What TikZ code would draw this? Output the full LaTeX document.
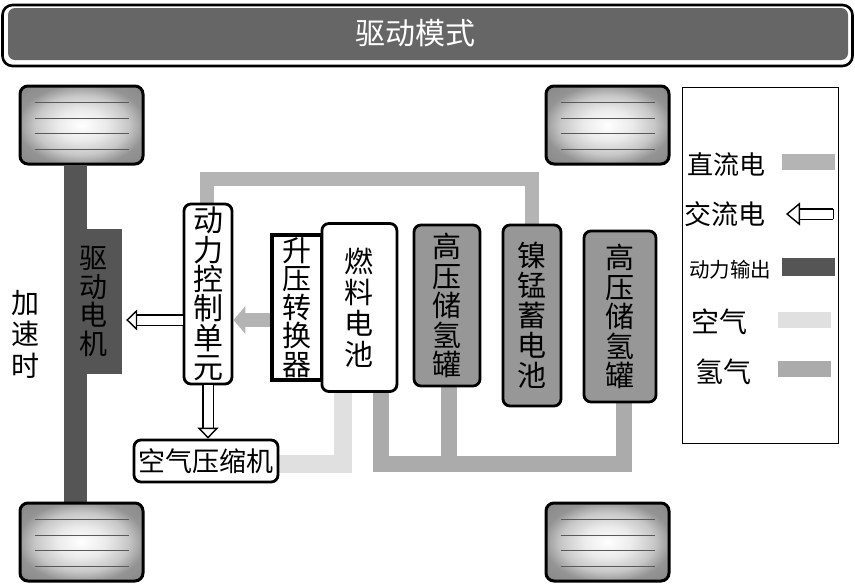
\documentclass[tikz,border=0pt]{standalone}
\usepackage{fontspec}
\setmainfont{Noto Sans CJK SC}
\usepackage{xcolor}
\usetikzlibrary{arrows.meta, shapes.geometric, positioning, backgrounds}

\definecolor{dcgray}{HTML}{B4B4B4}
\definecolor{drivegray}{HTML}{555555}
\definecolor{airgray}{HTML}{E0E0E0}
\definecolor{hydrogray}{HTML}{ABABAB}
\definecolor{tankgray}{HTML}{979797}
\definecolor{titlegray}{HTML}{666666}

\pgfdeclareradialshading{wheelshade}{\pgfpoint{0bp}{0bp}}{
color(0bp)=(white);
color(10bp)=(white!92!black);
color(19bp)=(black!22);
color(26bp)=(black!42);
color(50bp)=(black!55)}

\newcommand{\wheellines}[1]{%
\foreach \dy in {-23,-7,8,24} {
\draw[wheelline] ([xshift=-47pt,yshift=-\dy pt]#1.center) -- ([xshift=47pt,yshift=-\dy pt]#1.center);
}}

\begin{document}
\begin{tikzpicture}[
x=1pt, y=-1pt,
>=Stealth,
wheel/.style={rectangle, draw, line width=3pt, rounded corners=8pt, minimum width=123pt, minimum height=78pt, shading=wheelshade},
wheelline/.style={draw=black!65, line width=1pt},
unit/.style={rectangle, draw, line width=2.8pt, rounded corners=7pt, fill=white, align=center, inner sep=0pt},
tank/.style={unit, fill=tankgray},
vfont/.style 2 args={font=\fontsize{#1}{#2}\selectfont},
legendtext/.style={inner sep=0pt, anchor=west},
swatch/.style={rectangle, minimum width=53pt, minimum height=16pt, inner sep=0pt},
dcline/.style={draw=dcgray, line width=14pt},
airline/.style={draw=airgray, line width=18pt},
hydroline/.style={draw=hydrogray, line width=16pt},
acline/.style={draw, line width=1.4pt, double=white, double distance=9pt, -{Triangle[open, fill=white, length=11pt, width=21pt]}}
]
\useasboundingbox (0,0) rectangle (855,584);

% title
\node[rectangle, draw, line width=2.6pt, rounded corners=10pt, minimum width=850pt, minimum height=61pt] (frame) at (427.5,35.5) {};
\node[rectangle, fill=titlegray, rounded corners=7pt, minimum width=840pt, minimum height=52pt] (title) at (428,34) {};
\node[text=white, vfont={30}{32}, inner sep=0pt] (titletext) at (415.5,33) {驱动模式};

% wheels
\node[wheel] (wheelfl) at (81.5,125) {};
\node[wheel] (wheelfr) at (607.5,125) {};
\node[wheel] (wheelrl) at (81.5,542) {};
\node[wheel] (wheelrr) at (607.5,542) {};
\wheellines{wheelfl}
\wheellines{wheelfr}
\wheellines{wheelrl}
\wheellines{wheelrr}

% drive train
\node[rectangle, fill=drivegray, minimum width=58pt, minimum height=145pt, align=center, inner sep=0pt, vfont={28}{28.5}] (motor) at (93,301.5) {驱\\动\\电\\机};
\node[align=center, inner sep=0pt, vfont={28}{31.5}] (accel) at (26,334) {加\\速\\时};

% units
\node[unit, minimum width=48pt, minimum height=180pt, vfont={30}{29.3}] (pcu) at (208,294) {动\\力\\控\\制\\单\\元};
\node[rectangle, draw, line width=3.4pt, fill=white, minimum width=50pt, minimum height=145pt, align=center, inner sep=0pt, vfont={29}{28.5}] (boost) at (297,307.5) {升\\压\\转\\换\\器};
\node[unit, minimum width=75pt, minimum height=168pt, vfont={29}{31}, right=-3.2pt of boost] (fuel) {燃\\料\\电\\池};
\node[tank, minimum width=66pt, minimum height=161pt, vfont={29}{29.5}] (tankleft) at (447,305.5) {高\\压\\储\\氢\\罐};
\node[tank, minimum width=58pt, minimum height=181pt, vfont={29}{30}] (battery) at (532,315.5) {镍\\锰\\蓄\\电\\池};
\node[tank, minimum width=72pt, minimum height=171pt, vfont={29}{29.5}] (tankright) at (620,316.5) {高\\压\\储\\氢\\罐};
\node[unit, minimum width=144pt, minimum height=42pt, vfont={27}{29}] (compressor) at (206,461) {空气压缩机};

% connector corners
\coordinate (dcleft) at (207,179);
\coordinate (airbend) at (343,464);
\coordinate (hydrobend) at (381,464);
\coordinate (hydrotankleft) at (449,464);
\coordinate (hydrotankright) at (624,464);

\begin{scope}[on background layer]
\draw[draw=drivegray, line width=23pt] (wheelfl.south -| 75.5,0) -- (wheelrl.north -| 75.5,0);
\draw[dcline] (dcleft |- pcu.north) -- (dcleft) -| (battery.north);
\draw[airline] (airbend -| compressor.east) -- (airbend) -- (airbend |- fuel.south);
\draw[hydroline] (hydrobend |- fuel.south) -- (hydrobend) -- (hydrotankright) -- (hydrotankright |- tankright.south);
\draw[hydroline] (hydrotankleft) -- (hydrotankleft |- tankleft.south);
\end{scope}

\draw[dcgray, line width=14pt, -{Triangle[length=12pt, width=27pt]}] (boost.west |- 0,320) -- (pcu.east |- 0,320);
\draw[acline, shorten >=4pt] (pcu.west |- 0,320) -- (motor.east |- 0,320);
\draw[acline] (pcu.south) -- (pcu.south |- compressor.north);

% legend
\node[rectangle, draw, line width=0.8pt, minimum width=156pt, minimum height=356pt] (legend) at (760,265) {};
\node[legendtext, vfont={26}{28}] (legdc) at (687,165) {直流电};
\node[legendtext, vfont={27}{28}] (legac) at (684,214) {交流电};
\node[legendtext, vfont={20.5}{22}] (legdrive) at (689,270) {动力输出};
\node[legendtext, vfont={28}{30}] (legair) at (691,322) {空气};
\node[legendtext, vfont={28}{30}] (leghydro) at (695,372) {氢气};
\node[swatch, fill=dcgray] (swdc) at (808.5,162) {};
\node[swatch, fill=drivegray, minimum height=18pt] (swdrive) at (808.5,267) {};
\node[swatch, fill=airgray] (swair) at (804,320) {};
\node[swatch, fill=hydrogray] (swhydro) at (804,368.5) {};
\coordinate (acstart) at (834,214);
\coordinate (acend) at (786,214);
\draw[acline, arrows={Bar[width=10pt, line width=1.4pt]-Triangle[open, fill=white, length=14pt, width=23pt]}] (acstart) -- (acend);

\end{tikzpicture}
\end{document}
